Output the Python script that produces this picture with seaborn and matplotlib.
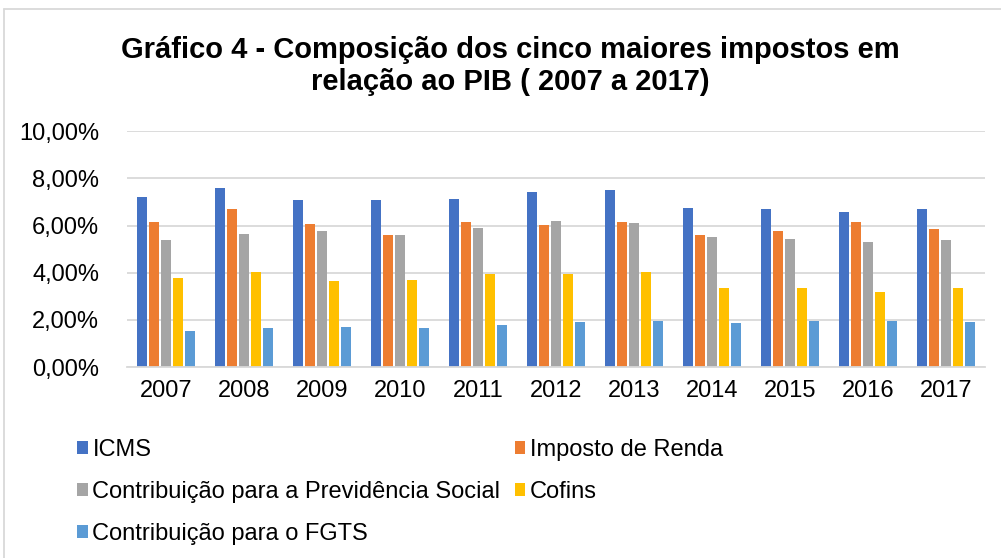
import matplotlib
matplotlib.use("Agg")
import matplotlib.pyplot as plt
import seaborn as sns
import pandas as pd
from matplotlib.patches import Patch
from matplotlib.lines import Line2D
from matplotlib.ticker import FuncFormatter

years = ["2007", "2008", "2009", "2010", "2011", "2012", "2013", "2014", "2015", "2016", "2017"]
series_names = ["ICMS", "Imposto de Renda", "Contribuição para a Previdência Social",
                "Cofins", "Contribuição para o FGTS"]
icms = [7.20, 7.59, 7.10, 7.07, 7.13, 7.41, 7.49, 6.73, 6.68, 6.56, 6.68]
imposto_renda = [6.13, 6.70, 6.08, 5.59, 6.13, 6.03, 6.13, 5.59, 5.76, 6.13, 5.86]
previdencia = [5.38, 5.63, 5.76, 5.59, 5.90, 6.21, 6.10, 5.51, 5.41, 5.32, 5.38]
cofins = [3.77, 4.03, 3.65, 3.70, 3.93, 3.93, 4.04, 3.37, 3.35, 3.18, 3.35]
fgts = [1.55, 1.65, 1.70, 1.68, 1.79, 1.92, 1.97, 1.86, 1.97, 1.94, 1.92]
colors = ["#4472C4", "#ED7D31", "#A5A5A5", "#FFC000", "#5B9BD5"]
yticks = [0, 2, 4, 6, 8, 10]

values = [icms, imposto_renda, previdencia, cofins, fgts]
rows = []
for name, vals in zip(series_names, values):
    for y, v in zip(years, vals):
        rows.append({"Ano": y, "Imposto": name, "Valor": v})
df = pd.DataFrame(rows)

sns.set_theme(style="white")
plt.rcParams["font.family"] = ["Liberation Sans", "DejaVu Sans"]
plt.rcParams["text.color"] = "black"

fig = plt.figure(figsize=(10.01, 5.58), dpi=100)
ax = fig.add_axes([0.127, 0.342, 0.857, 0.423])

sns.barplot(data=df, x="Ano", y="Valor", hue="Imposto", hue_order=series_names,
            palette=colors, width=0.77, gap=0.17, ax=ax, legend=False,
            saturation=1, edgecolor="none", errorbar=None)

ax.set_ylim(0, 10)
ax.set_yticks(yticks)
ax.yaxis.set_major_formatter(FuncFormatter(lambda v, p: f"{v:.2f}".replace(".", ",") + "%"))
ax.yaxis.grid(True, color="#d9d9d9", linewidth=1.3)
ax.set_axisbelow(True)
for s in ["left", "right", "top"]:
    ax.spines[s].set_visible(False)
ax.spines["bottom"].set_color("#d9d9d9")
ax.spines["bottom"].set_linewidth(1.3)
ax.tick_params(axis="both", length=0, labelsize=17, colors="#000000")
ax.tick_params(axis="y", pad=20)
ax.tick_params(axis="x", pad=9)
ax.set_xlabel("")
ax.set_ylabel("")
ax.set_xlim(-0.5, len(years) - 0.5)

fig.text(0.51, 1 - 66 / 558, "Gráfico 4 - Composição dos cinco maiores impostos em\nrelação ao PIB ( 2007 a 2017)",
         ha="center", va="center", fontsize=21, fontweight="bold", linespacing=1.15,
         color="black")

handles = [Patch(facecolor=c, edgecolor="none") for c in colors]
order = [0, 2, 4, 1, 3]
leg = fig.legend([handles[i] for i in order], [series_names[i] for i in order],
                 ncol=2, loc="upper left", bbox_to_anchor=(0.077, 1 - 439 / 558),
                 frameon=False, fontsize=17, handlelength=0.45, handleheight=0.45,
                 handletextpad=0.2, columnspacing=0.6, labelspacing=0.85, borderpad=0,
                 borderaxespad=0)
for t in leg.get_texts():
    t.set_color("black")

# chart area border
fig.add_artist(Line2D([4 / 1001, 1.0], [1 - 9 / 558, 1 - 9 / 558], transform=fig.transFigure,
                      color="#d9d9d9", linewidth=1.3))
fig.add_artist(Line2D([4 / 1001, 4 / 1001], [0, 1 - 9 / 558], transform=fig.transFigure,
                      color="#d9d9d9", linewidth=1.3))

fig.savefig("out.png", dpi=100, facecolor="white")
